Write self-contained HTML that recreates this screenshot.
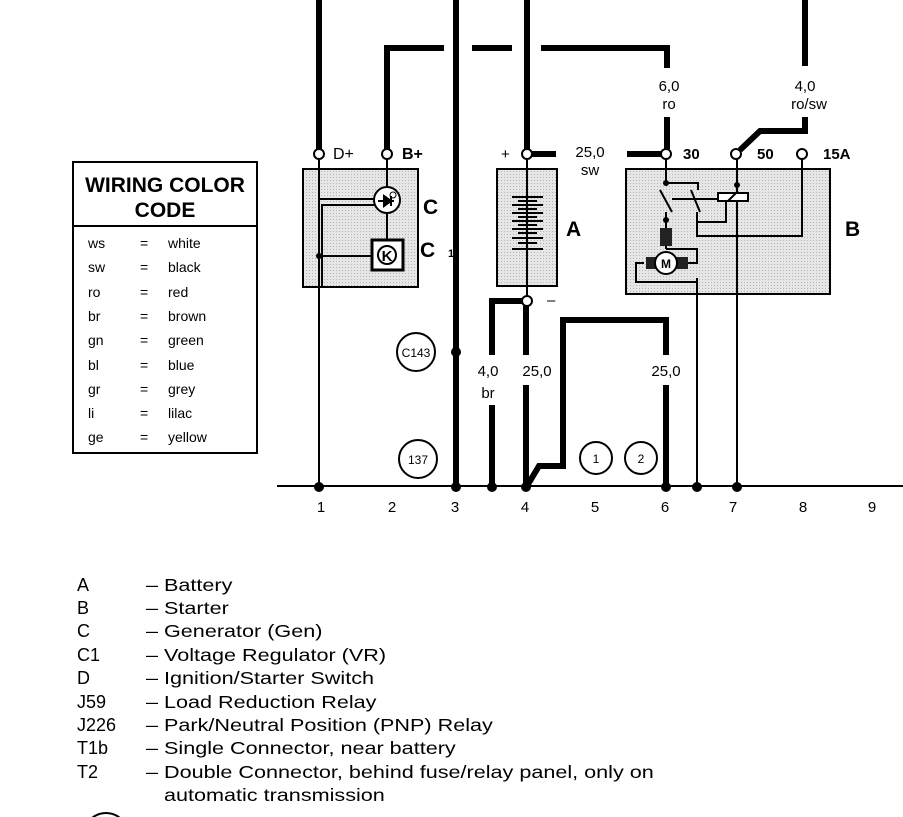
<!DOCTYPE html>
<html><head><meta charset="utf-8"><style>
html,body{margin:0;padding:0;background:#fff;}
svg{display:block;font-family:"Liberation Sans",sans-serif;}
</style></head><body>
<svg width="903" height="817" viewBox="0 0 903 817" xmlns="http://www.w3.org/2000/svg">
<defs>
<pattern id="dots" width="3" height="3" patternUnits="userSpaceOnUse"><rect width="3" height="3" fill="#e6e6e6"/><rect width="1" height="1" fill="#b5b5b5"/></pattern>
</defs>
<rect x="303" y="169" width="115" height="118" fill="url(#dots)" stroke="#000" stroke-width="2"/>
<rect x="497" y="169" width="60" height="117" fill="url(#dots)" stroke="#000" stroke-width="2"/>
<rect x="626" y="169" width="204" height="125" fill="url(#dots)" stroke="#000" stroke-width="2"/>

<g stroke="#000" fill="none" stroke-linecap="butt">
<line x1="319" y1="0" x2="319" y2="149" stroke-width="6"/>
<polyline points="387,149 387,48 444,48" stroke-width="6"/>
<line x1="472" y1="48" x2="512" y2="48" stroke-width="6"/>
<polyline points="541,48 667,48 667,68" stroke-width="6"/>
<line x1="667" y1="117" x2="667" y2="149" stroke-width="6"/>
<line x1="456" y1="0" x2="456" y2="487" stroke-width="6"/>
<line x1="527" y1="0" x2="527" y2="149" stroke-width="6"/>
<line x1="532" y1="154" x2="556" y2="154" stroke-width="6"/>
<line x1="627" y1="154" x2="661" y2="154" stroke-width="6"/>
<line x1="805" y1="0" x2="805" y2="66" stroke-width="6"/>
<polyline points="805,117 805,131 760,131 740,150" stroke-width="6"/>
<polyline points="523,301 492,301 492,355" stroke-width="6"/>
<line x1="492" y1="405" x2="492" y2="487" stroke-width="6"/>
<line x1="526" y1="306" x2="526" y2="355" stroke-width="6"/>
<line x1="526" y1="385" x2="526" y2="487" stroke-width="6"/>
<polyline points="527,486 539,466 563,466 563,320 666,320 666,355" stroke-width="6"/>
<line x1="666" y1="385" x2="666" y2="487" stroke-width="6"/>
<line x1="319" y1="159" x2="319" y2="487" stroke-width="2"/>
<line x1="387" y1="159" x2="387" y2="188" stroke-width="2"/>
<line x1="387" y1="213" x2="387" y2="240" stroke-width="2"/>
<line x1="319" y1="199" x2="374" y2="199" stroke-width="2"/>
<polyline points="322,287 322,205 375,205" stroke-width="2"/>
<line x1="319" y1="256" x2="372" y2="256" stroke-width="2"/>
<line x1="527" y1="159" x2="527" y2="296" stroke-width="2"/>
<line x1="697" y1="278" x2="697" y2="487" stroke-width="2"/>
<line x1="737" y1="159" x2="737" y2="487" stroke-width="2"/>
<line x1="802" y1="159" x2="802" y2="237" stroke-width="2"/>
<line x1="277" y1="486" x2="903" y2="486" stroke-width="2"/>
</g>

<circle cx="387" cy="200" r="13" fill="#fff" stroke="#000" stroke-width="2"/>
<path d="M378,201 L394,201 M384,196 L384,206 L391,201 Z M391,196 L391,206" stroke="#000" stroke-width="2" fill="#000"/>
<circle cx="393" cy="195" r="3" fill="none" stroke="#000" stroke-width="1"/>
<rect x="372" y="240" width="31" height="30" fill="#fff" stroke="#000" stroke-width="3"/>
<circle cx="387" cy="255" r="9" fill="none" stroke="#000" stroke-width="2"/>
<text x="387" y="261" font-size="15" font-weight="bold" text-anchor="middle">K</text>
<circle cx="319" cy="256" r="3" fill="#000"/>

<g stroke="#000" stroke-width="2">
<line x1="512" y1="197" x2="543" y2="197"/><line x1="518" y1="201" x2="537" y2="201"/>
<line x1="512" y1="205" x2="543" y2="205"/><line x1="518" y1="209" x2="537" y2="209"/>
<line x1="512" y1="213" x2="543" y2="213"/><line x1="518" y1="217" x2="537" y2="217"/>
<line x1="512" y1="221" x2="543" y2="221"/><line x1="518" y1="225" x2="537" y2="225"/>
<line x1="512" y1="229" x2="543" y2="229"/><line x1="518" y1="233" x2="537" y2="233"/>
<line x1="512" y1="238" x2="543" y2="238"/><line x1="518" y1="243" x2="537" y2="243"/>
<line x1="512" y1="249" x2="543" y2="249"/>
</g>

<g stroke="#000" stroke-width="2" fill="none">
<polyline points="666,159 666,183 698,183 698,190"/>
<line x1="660" y1="190" x2="672" y2="212"/>
<line x1="691" y1="190" x2="700" y2="212"/>
<line x1="666" y1="212" x2="666" y2="230"/>
<polyline points="697,212 697,222 726,222 726,193 735,193"/>
<line x1="672" y1="199" x2="733" y2="199"/>
<polyline points="697,222 697,236 802,236"/>
<line x1="666" y1="244" x2="666" y2="249"/>
<polyline points="666,249 697,249 697,263 688,263"/>
<polyline points="644,263 636,263 636,282 697,282"/>
</g>
<rect x="718" y="193" width="30" height="8" fill="#fff" stroke="#000" stroke-width="2"/>
<line x1="728" y1="201" x2="738" y2="191" stroke="#000" stroke-width="2"/>
<circle cx="666" cy="183" r="3" fill="#000"/>
<circle cx="737" cy="185" r="3" fill="#000"/>
<circle cx="666" cy="220" r="3" fill="#000"/>
<rect x="660" y="228" width="12" height="18" fill="#222"/>
<rect x="646" y="257" width="42" height="12" fill="#222"/>
<circle cx="666" cy="263" r="11" fill="#fff" stroke="#000" stroke-width="2"/>
<text x="666" y="268" font-size="12" font-weight="bold" text-anchor="middle">M</text>

<g fill="#fff" stroke="#000" stroke-width="2">
<circle cx="319" cy="154" r="5"/><circle cx="387" cy="154" r="5"/>
<circle cx="527" cy="154" r="5"/><circle cx="527" cy="301" r="5"/>
<circle cx="666" cy="154" r="5"/><circle cx="736" cy="154" r="5"/><circle cx="802" cy="154" r="5"/>
<circle cx="416" cy="352" r="19"/><circle cx="418" cy="459" r="19"/>
<circle cx="596" cy="458" r="16"/><circle cx="641" cy="458" r="16"/>
<circle cx="106" cy="835" r="22"/>
</g>
<g fill="#000">
<circle cx="456" cy="352" r="5"/>
<circle cx="319" cy="487" r="5"/><circle cx="456" cy="487" r="5"/><circle cx="492" cy="487" r="5"/>
<circle cx="526" cy="487" r="5"/><circle cx="666" cy="487" r="5"/><circle cx="697" cy="487" r="5"/><circle cx="737" cy="487" r="5"/>
</g>

<g font-size="15" fill="#000">
<text x="333" y="159" font-size="16">D+</text>
<text x="402" y="159" font-weight="bold" font-size="16">B+</text>
<text x="501" y="159" font-size="15">+</text>
<text x="547" y="305">–</text>
<text x="590" y="157" text-anchor="middle">25,0</text>
<text x="590" y="175" text-anchor="middle">sw</text>
<text x="669" y="91" text-anchor="middle">6,0</text>
<text x="669" y="109" text-anchor="middle">ro</text>
<text x="805" y="91" text-anchor="middle">4,0</text>
<text x="809" y="109" text-anchor="middle">ro/sw</text>
<text x="683" y="159" font-weight="bold">30</text>
<text x="757" y="159" font-weight="bold">50</text>
<text x="823" y="159" font-weight="bold">15A</text>
<text x="488" y="376" text-anchor="middle">4,0</text>
<text x="488" y="398" text-anchor="middle">br</text>
<text x="537" y="376" text-anchor="middle">25,0</text>
<text x="666" y="376" text-anchor="middle">25,0</text>
<text x="416" y="357" font-size="12" text-anchor="middle">C143</text>
<text x="418" y="464" font-size="12" text-anchor="middle">137</text>
<text x="596" y="463" font-size="12" text-anchor="middle">1</text>
<text x="641" y="463" font-size="12" text-anchor="middle">2</text>
<text x="423" y="214" font-size="21" font-weight="bold">C</text>
<text x="420" y="257" font-size="21" font-weight="bold">C</text>
<text x="448" y="257" font-size="11" font-weight="bold">1</text>
<text x="566" y="236" font-size="21" font-weight="bold">A</text>
<text x="845" y="236" font-size="21" font-weight="bold">B</text>
</g>
<g font-size="15" text-anchor="middle">
<text x="321" y="512">1</text><text x="392" y="512">2</text><text x="455" y="512">3</text>
<text x="525" y="512">4</text><text x="595" y="512">5</text><text x="665" y="512">6</text>
<text x="733" y="512">7</text><text x="803" y="512">8</text><text x="872" y="512">9</text>
</g>

<rect x="73" y="162" width="184" height="291" fill="#fff" stroke="#000" stroke-width="2"/>
<line x1="73" y1="226" x2="257" y2="226" stroke="#000" stroke-width="2"/>
<text x="165" y="192" font-size="21" font-weight="bold" text-anchor="middle">WIRING COLOR</text>
<text x="165" y="217" font-size="21" font-weight="bold" text-anchor="middle">CODE</text>
<g font-size="14">
<text x="88" y="248">ws</text><text x="140" y="248">=</text><text x="168" y="248">white</text>
<text x="88" y="272">sw</text><text x="140" y="272">=</text><text x="168" y="272">black</text>
<text x="88" y="297">ro</text><text x="140" y="297">=</text><text x="168" y="297">red</text>
<text x="88" y="321">br</text><text x="140" y="321">=</text><text x="168" y="321">brown</text>
<text x="88" y="345">gn</text><text x="140" y="345">=</text><text x="168" y="345">green</text>
<text x="88" y="370">bl</text><text x="140" y="370">=</text><text x="168" y="370">blue</text>
<text x="88" y="394">gr</text><text x="140" y="394">=</text><text x="168" y="394">grey</text>
<text x="88" y="418">li</text><text x="140" y="418">=</text><text x="168" y="418">lilac</text>
<text x="88" y="442">ge</text><text x="140" y="442">=</text><text x="168" y="442">yellow</text>
</g>

<g font-size="18">
<text x="77" y="591">A</text>
<text x="77" y="614">B</text>
<text x="77" y="637">C</text>
<text x="77" y="661">C1</text>
<text x="77" y="684">D</text>
<text x="77" y="708">J59</text>
<text x="77" y="731">J226</text>
<text x="77" y="754">T1b</text>
<text x="77" y="778">T2</text>
</g>
<g font-size="18" transform="translate(146,0) scale(1.2,1)">
<text x="0" y="591">– Battery</text>
<text x="0" y="614">– Starter</text>
<text x="0" y="637">– Generator (Gen)</text>
<text x="0" y="661">– Voltage Regulator (VR)</text>
<text x="0" y="684">– Ignition/Starter Switch</text>
<text x="0" y="708">– Load Reduction Relay</text>
<text x="0" y="731">– Park/Neutral Position (PNP) Relay</text>
<text x="0" y="754">– Single Connector, near battery</text>
<text x="0" y="778">– Double Connector, behind fuse/relay panel, only on</text>
<text x="15" y="801">automatic transmission</text>
</g>
</svg>
</body></html>
